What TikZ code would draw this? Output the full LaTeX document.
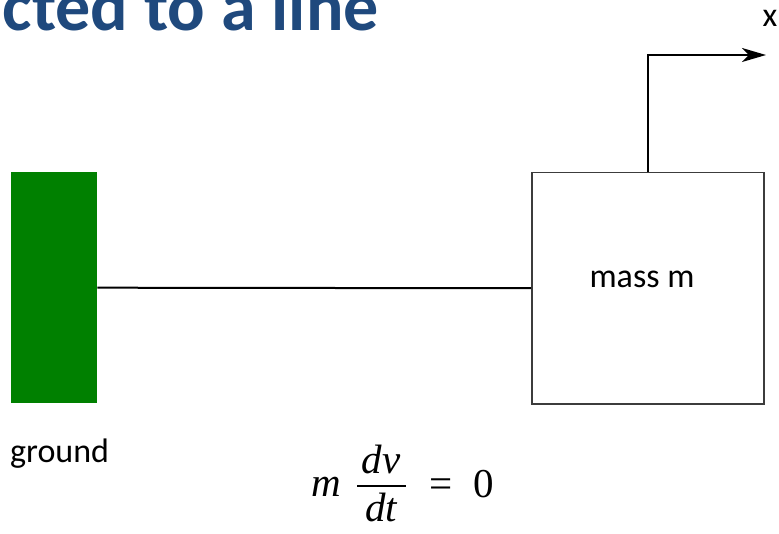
\documentclass[tikz,border=0pt]{standalone}
\usepackage{fontspec}
\setmainfont{Carlito}
\newfontfamily\eqfont{Liberation Serif}
\usetikzlibrary{arrows.meta}
\definecolor{groundgreen}{RGB}{0,128,0}
\definecolor{titleblue}{RGB}{31,73,125}
\definecolor{boxgray}{RGB}{60,60,60}
\begin{document}
\begin{tikzpicture}[x=1pt,y=-1pt,
  lbl/.style={font=\fontsize{34}{40}\selectfont, inner sep=0},
  eqtxt/.style={font=\eqfont\fontsize{41}{46}\selectfont\itshape, inner sep=0},
  equp/.style={font=\eqfont\fontsize{41}{46}\selectfont, inner sep=0},
  conn/.style={line width=2pt, black}]
\useasboundingbox (0,0) rectangle (779,534);
\node[anchor=base east, inner sep=0, text=titleblue,
  font=\fontsize{70}{80}\selectfont\bfseries] (title) at (379,31) {cted to a line};
\node[fill=groundgreen, minimum width=86, minimum height=231, inner sep=0,
  anchor=north west] (gnd) at (11,172) {};
\node[draw=boxgray, line width=1.5pt, minimum width=232, minimum height=231,
  inner sep=0, anchor=north west] (box) at (531,172) {};
\node[lbl, anchor=base] (masslbl) at (642,288) {mass m};
\node[lbl, anchor=base west] (groundlbl) at (10,462) {ground};
\node[lbl, anchor=base] (xlbl) at (770,27) {x};
\draw[conn] (gnd.east) -- (box.west);
\coordinate (xend) at (766,55);
\draw[line width=2pt, -{Stealth[length=24pt,width=14pt,inset=7pt]}] (box.north) |- (xend);
% equation
\node[eqtxt, anchor=base] (eqm) at (326,496) {m};
\node[eqtxt, anchor=base] (eqdv) at (381,473) {dv};
\node[eqtxt, anchor=base] (eqdt) at (381,521) {dt};
\coordinate (barl) at (357,486);
\coordinate (barr) at (406,486);
\draw[line width=1.5pt] (barl) -- (barr);
\node[equp, anchor=base] (eqeq) at (441,497) {=};
\node[equp, anchor=base] (eqz) at (484,497) {0};
\end{tikzpicture}
\end{document}
